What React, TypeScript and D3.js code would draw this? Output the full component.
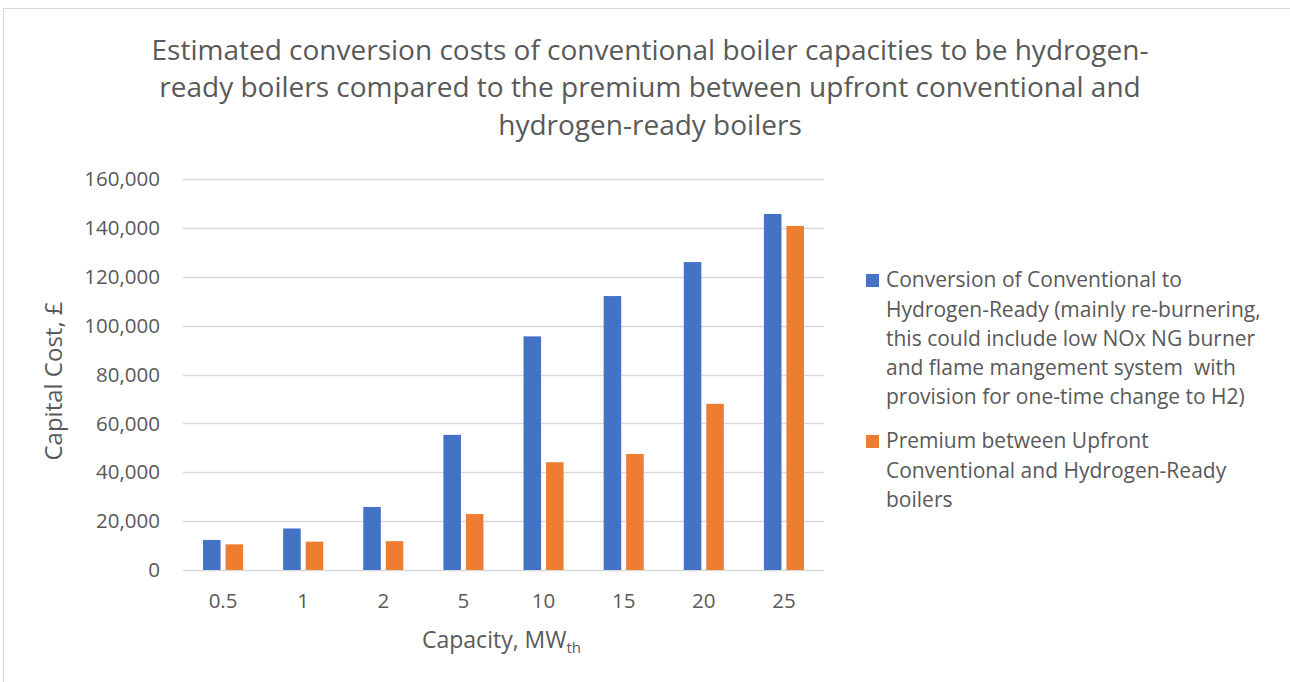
import React from "react";
import * as d3 from "d3";

const categories = ["0.5", "1", "2", "5", "10", "15", "20", "25"];
const conversionCost = [12300, 17000, 25800, 55300, 95600, 112100, 126000, 145700];
const premiumCost = [10500, 11600, 11800, 22900, 44100, 47500, 68000, 140800];
const yTicks = [0, 20000, 40000, 60000, 80000, 100000, 120000, 140000, 160000];
const titleLines = [
  "Estimated conversion costs of conventional boiler capacities to be hydrogen-",
  "ready boilers compared to the premium between upfront conventional and",
  "hydrogen-ready boilers",
];
const legendConversion = [
  "Conversion of Conventional to",
  "Hydrogen-Ready (mainly re-burnering,",
  "this could include low NOx NG burner",
  "and flame mangement system  with",
  "provision for one-time change to H2)",
];
const legendPremium = [
  "Premium between Upfront",
  "Conventional and Hydrogen-Ready",
  "boilers",
];

const W = 1290;
const H = 682;
const FONT = "'Open Sans', sans-serif";
const TEXT = "#595959";
const BLUE = "#4472C4";
const ORANGE = "#ED7D31";

export default function App() {
  const plot = { left: 183, right: 824, top: 179, bottom: 570 };
  const x = d3.scaleBand<string>().domain(categories).range([plot.left, plot.right]).paddingInner(0.5).paddingOuter(0.25);
  const series = ["conv", "prem"];
  const xi = d3.scaleBand<string>().domain(series).range([0, x.bandwidth()]).paddingInner(0.22);
  const y = d3.scaleLinear().domain([0, 160000]).range([plot.bottom, plot.top]);
  const fmt = d3.format(",");
  const data = [conversionCost, premiumCost];
  const colors = [BLUE, ORANGE];

  return (
    <svg width={W} height={H} style={{ position: "absolute", left: 0, top: 0, background: "#fff" }} fontFamily={FONT}>
      <rect x={3.5} y={8.5} width={W + 10} height={H + 10} fill="#fff" stroke="#d9d9d9" strokeWidth={1} />
      {titleLines.map((t, i) => (
        <text key={i} x={650} y={59.5 + i * 37.5} textAnchor="middle" fontSize={28} fill={TEXT}>
          {t}
        </text>
      ))}
      {yTicks.map((v) => (
        <g key={v}>
          <line x1={plot.left} x2={plot.right} y1={Math.round(y(v)) + 0.5} y2={Math.round(y(v)) + 0.5} stroke="#d9d9d9" strokeWidth={1.3} />
          <text x={160} y={y(v)} dy="0.35em" textAnchor="end" fontSize={20.5} fill={TEXT}>
            {fmt(v)}
          </text>
        </g>
      ))}
      {categories.map((c, i) => (
        <g key={c}>
          {data.map((arr, s) => (
            <rect
              key={s}
              x={(x(c) as number) + (xi(series[s]) as number)}
              y={y(arr[i])}
              width={xi.bandwidth()}
              height={y(0) - y(arr[i])}
              fill={colors[s]}
            />
          ))}
          <text x={(x(c) as number) + x.bandwidth() / 2} y={601} dy="0.35em" textAnchor="middle" fontSize={20.5} fill={TEXT}>
            {c}
          </text>
        </g>
      ))}
      <text x={422} y={648} fontSize={23} fill={TEXT}>
        Capacity, MW
        <tspan fontSize={15} dy={5}>th</tspan>
      </text>
      <text transform="translate(62,381) rotate(-90)" textAnchor="middle" fontSize={24} fill={TEXT}>
        Capital Cost, £
      </text>
      <rect x={866} y={274} width={13} height={13} fill={BLUE} />
      {legendConversion.map((t, i) => (
        <text key={i} x={886} y={280 + i * 29.2} dy="0.35em" fontSize={21} fill={TEXT} xmlSpace="preserve" style={{ whiteSpace: "pre" }}>
          {t}
        </text>
      ))}
      <rect x={866} y={435} width={13} height={13} fill={ORANGE} />
      {legendPremium.map((t, i) => (
        <text key={i} x={886} y={441 + i * 29.2} dy="0.35em" fontSize={21} fill={TEXT} xmlSpace="preserve" style={{ whiteSpace: "pre" }}>
          {t}
        </text>
      ))}
    </svg>
  );
}
